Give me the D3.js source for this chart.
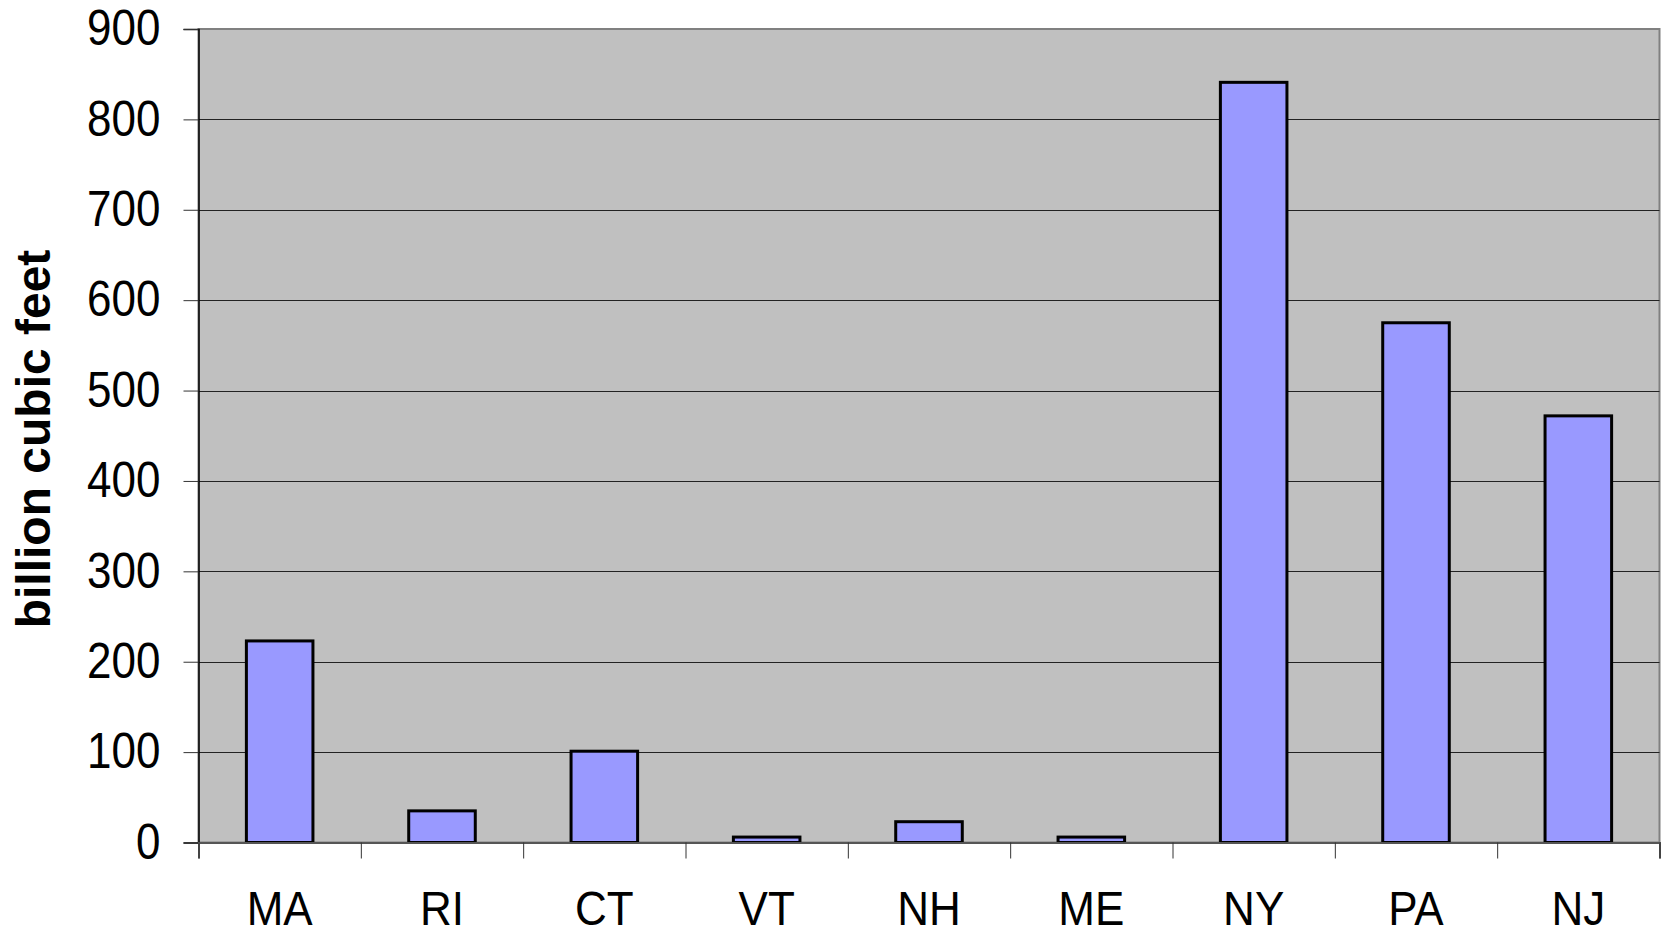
<!DOCTYPE html>
<html>
<head lang="en">
	<meta charset="UTF-8">
	<title></title>
	<script src="https://cdn.jsdelivr.net/npm/d3@7"></script>
	<style>
		body { margin: 0; background: #fff; }
		text { font-family: "Liberation Sans", Arial, sans-serif; }
	</style>
</head>
<body>

<script>

	var states = ["MA", "RI", "CT", "VT", "NH", "ME", "NY", "PA", "NJ"];
	var volumes = [223, 35, 101, 6, 23, 6, 841, 575, 472];
	var yTicks = [0, 100, 200, 300, 400, 500, 600, 700, 800, 900];

	var W = 1672, H = 935;
	var plot = {left: 198.5, right: 1659.5, top: 29, bottom: 842.5};

	var svg = d3.select('body').append("svg:svg").attr("width", W).attr("height", H);

	var x = d3.scaleBand().domain(states).range([plot.left, plot.right])
			.paddingInner(0.59).paddingOuter(0.295);
	var xEdge = d3.scaleLinear().domain([0, states.length]).range([plot.left, plot.right]);
	var y = d3.scaleLinear().domain([0, 900]).range([plot.bottom, plot.top]);

	// plot background
	svg.append("rect")
			.attr("x", plot.left).attr("y", plot.top)
			.attr("width", plot.right - plot.left).attr("height", plot.bottom - plot.top)
			.style("fill", "#c0c0c0")
			.style("stroke", "#808080")
			.style("stroke-width", 2);

	// grid lines
	svg.append("g").selectAll("line")
			.data(yTicks.filter(function (d) { return d > 0 && d < 900; }))
			.enter().append("line")
			.attr("x1", plot.left).attr("x2", plot.right)
			.attr("y1", function (d) { return Math.round(y(d)) + 0.5; })
			.attr("y2", function (d) { return Math.round(y(d)) + 0.5; })
			.style("stroke", "#222")
			.style("stroke-width", 1);

	// bars
	svg.append("g").selectAll("rect")
			.data(volumes)
			.enter().append("rect")
			.attr("x", function (d, i) { return x(states[i]); })
			.attr("y", function (d) { return y(d); })
			.attr("width", x.bandwidth())
			.attr("height", function (d) { return plot.bottom - y(d); })
			.style("fill", "#9999ff")
			.style("stroke", "#000")
			.style("stroke-width", 3);

	// y axis
	var yAxis = svg.append("g")
			.attr("transform", "translate(" + plot.left + ",0)")
			.call(d3.axisLeft(y).tickValues(yTicks).tickSize(15).tickPadding(23));
	yAxis.select(".domain").style("stroke", "#000").style("stroke-width", 1.5);
	yAxis.selectAll(".tick line").style("stroke", "#333");
	yAxis.selectAll(".tick text")
			.style("font-size", "44px")
			.style("fill", "#000")
			.attr("transform", "scale(1,1.12)");

	// x axis: boundary ticks
	var xTickAxis = svg.append("g")
			.attr("transform", "translate(0," + plot.bottom + ")")
			.call(d3.axisBottom(xEdge).tickValues(d3.range(states.length + 1)).tickSize(16).tickFormat(""));
	xTickAxis.select(".domain").style("stroke", "#555").style("stroke-width", 2);
	xTickAxis.selectAll(".tick line").style("stroke", "#333");

	// x axis: labels (kept just inside the bottom edge)
	var xAxis = svg.append("g")
			.attr("transform", "translate(0," + plot.bottom + ")")
			.call(d3.axisBottom(x).tickSize(0));
	xAxis.select(".domain").remove();
	xAxis.selectAll(".tick text")
			.attr("y", 76)
			.attr("dy", 0)
			.style("font-size", "44px")
			.style("fill", "#000")
			.attr("transform", "scale(1,1.08)");

	// y axis title
	svg.append("text")
			.attr("transform", "translate(50,439) rotate(-90)")
			.attr("text-anchor", "middle")
			.style("font-size", "48px")
			.style("font-weight", "bold")
			.text("billion cubic feet");

</script>

</body>
</html>
